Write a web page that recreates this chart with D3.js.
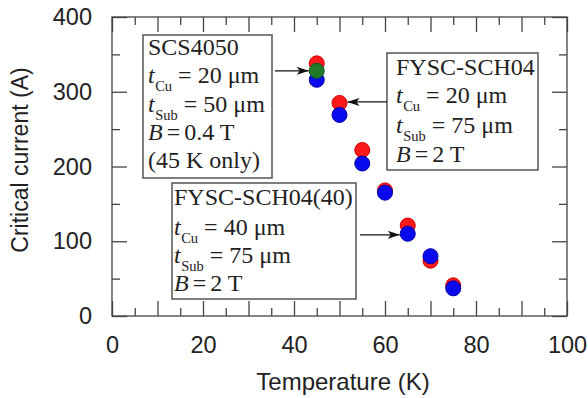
<!DOCTYPE html>
<html>
<head>
<meta charset="utf-8">
<script src="https://cdn.jsdelivr.net/npm/d3@7"></script>
<style>
  html, body { margin: 0; padding: 0; background: #fff; }
  svg { display: block; }
  text { white-space: pre; }
</style>
</head>
<body>
<svg id="chart" width="588" height="398"></svg>
<script>
// ---- data ----
const temps = [45, 50, 55, 60, 65, 70, 75];
const icSCH04 = [338, 285, 222, 168, 121, 74, 41];      // red: FYSC-SCH04
const icSCH04_40 = [316, 269, 204, 165, 110, 80, 37];   // blue: FYSC-SCH04(40)
const tempsSCS = [45];
const icSCS4050 = [328];                                 // green: SCS4050
const xTickLabels = [0, 20, 40, 60, 80, 100];
const yTickLabels = [0, 100, 200, 300, 400];
const xMajor = d3.range(0, 101, 10);
const xMinor = d3.range(5, 100, 10);
const yMajor = d3.range(0, 401, 100);
const yMinor = d3.range(50, 400, 100);

// ---- layout ----
const L = 112, R = 567, T = 17, B = 316;
const svg = d3.select("#chart");
const x = d3.scaleLinear().domain([0, 100]).range([L, R]);
const y = d3.scaleLinear().domain([0, 400]).range([B, T]);
const axisColor = "#444";
const sans = "'Liberation Sans', Arial, sans-serif";
const serif = "'Liberation Serif', 'Times New Roman', serif";

function styleAxis(g) {
  g.select(".domain").remove();
  g.selectAll(".tick line").attr("stroke", axisColor).attr("stroke-width", 1.3);
}
function noLabels(g) { g.selectAll(".tick text").remove(); }

// major / minor ticks on four sides (inside)
svg.append("g").attr("transform", `translate(0,${B})`)
  .call(d3.axisBottom(x).tickValues(xMajor).tickSize(-15)).call(styleAxis).call(noLabels);
svg.append("g").attr("transform", `translate(0,${B})`)
  .call(d3.axisBottom(x).tickValues(xMinor).tickSize(-8)).call(styleAxis).call(noLabels);
svg.append("g").attr("transform", `translate(0,${T})`)
  .call(d3.axisTop(x).tickValues(xMajor).tickSize(-15)).call(styleAxis).call(noLabels);
svg.append("g").attr("transform", `translate(0,${T})`)
  .call(d3.axisTop(x).tickValues(xMinor).tickSize(-8)).call(styleAxis).call(noLabels);
svg.append("g").attr("transform", `translate(${L},0)`)
  .call(d3.axisLeft(y).tickValues(yMajor).tickSize(-15)).call(styleAxis).call(noLabels);
svg.append("g").attr("transform", `translate(${L},0)`)
  .call(d3.axisLeft(y).tickValues(yMinor).tickSize(-8)).call(styleAxis).call(noLabels);
svg.append("g").attr("transform", `translate(${R},0)`)
  .call(d3.axisRight(y).tickValues(yMajor).tickSize(-15)).call(styleAxis).call(noLabels);
svg.append("g").attr("transform", `translate(${R},0)`)
  .call(d3.axisRight(y).tickValues(yMinor).tickSize(-8)).call(styleAxis).call(noLabels);

// tick labels
const xl = svg.append("g").attr("transform", `translate(0,${B})`)
  .call(d3.axisBottom(x).tickValues(xTickLabels).tickSize(0).tickPadding(20.5).tickFormat(d3.format("d")));
xl.select(".domain").remove();
xl.selectAll("text").attr("font-family", sans).attr("font-size", 23.5).attr("fill", "#222");
const yl = svg.append("g").attr("transform", `translate(${L},0)`)
  .call(d3.axisLeft(y).tickValues(yTickLabels).tickSize(0).tickPadding(20).tickFormat(d3.format("d")));
yl.select(".domain").remove();
yl.selectAll("text").attr("font-family", sans).attr("font-size", 23.5).attr("fill", "#222");

// frame
svg.append("rect").attr("x", L).attr("y", T).attr("width", R - L).attr("height", B - T)
  .attr("fill", "none").attr("stroke", axisColor).attr("stroke-width", 1.3);

// axis titles
svg.append("text").attr("x", 343).attr("y", 390).attr("text-anchor", "middle")
  .attr("font-family", sans).attr("font-size", 24).attr("fill", "#222").text("Temperature (K)");
svg.append("text").attr("transform", "translate(28,160) rotate(-90)").attr("text-anchor", "middle")
  .attr("font-family", sans).attr("font-size", 23).attr("fill", "#222").text("Critical current (A)");

// points
const r = 7.5;
function drawSeries(xs, vs, fill, stroke) {
  svg.append("g").selectAll("circle").data(vs).join("circle")
    .attr("cx", (d, i) => x(xs[i])).attr("cy", d => y(d)).attr("r", r)
    .attr("fill", fill).attr("stroke", stroke).attr("stroke-width", 1);
}
drawSeries(temps, icSCH04, "#ff1a1a", "#d00000");
drawSeries(temps, icSCH04_40, "#0a0aee", "#0000a8");
drawSeries(tempsSCS, icSCS4050, "#1f7a2a", "#145a1c");

// annotation boxes
function box(x0, y0, x1, y1) {
  svg.append("rect").attr("x", x0).attr("y", y0).attr("width", x1 - x0).attr("height", y1 - y0)
    .attr("fill", "#fff").attr("stroke", "#555").attr("stroke-width", 1.5);
}
function plain(tx, ty, s) {
  svg.append("text").attr("x", tx).attr("y", ty).attr("font-family", serif)
    .attr("font-size", 24).attr("fill", "#222").text(s);
}
function tLine(tx, ty, sub, rest) {
  const t = svg.append("text").attr("x", tx).attr("y", ty).attr("font-family", serif)
    .attr("font-size", 24).attr("fill", "#222");
  t.append("tspan").attr("font-style", "italic").text("t");
  t.append("tspan").attr("font-size", 14.5).attr("dy", 7.5).attr("dx", 0.5).text(sub);
  t.append("tspan").attr("dy", -7.5).text(" " + rest);
}
function bLine(tx, ty, rest) {
  const t = svg.append("text").attr("x", tx).attr("y", ty).attr("font-family", serif)
    .attr("font-size", 24).attr("fill", "#222");
  t.append("tspan").attr("font-style", "italic").text("B");
  t.append("tspan").attr("dx", 4).text("=");
  t.append("tspan").attr("dx", 4).text(rest);
}

// arrows
svg.append("defs").append("marker").attr("id", "ah")
  .attr("viewBox", "0 0 12 8").attr("refX", 12).attr("refY", 4)
  .attr("markerWidth", 12).attr("markerHeight", 8).attr("markerUnits", "userSpaceOnUse")
  .attr("orient", "auto")
  .append("path").attr("d", "M0,0 L12,4 L0,8 L3,4 Z").attr("fill", "#111");
function arrow(x0, y0, x1, y1) {
  svg.append("line").attr("x1", x0).attr("y1", y0).attr("x2", x1).attr("y2", y1)
    .attr("stroke", "#111").attr("stroke-width", 1.3).attr("marker-end", "url(#ah)");
}

// Box 1: SCS4050
box(143, 35, 272, 178);
plain(148, 55, "SCS4050");
tLine(148, 83, "Cu", "= 20 \u03bcm");
tLine(148, 112, "Sub", "= 50 \u03bcm");
bLine(148, 140, "0.4 T");
plain(148, 168, "(45 K only)");
arrow(275, y(icSCS4050[0]), x(tempsSCS[0]) - r - 0.5, y(icSCS4050[0]));

// Box 2: FYSC-SCH04
box(387, 53, 538, 170);
plain(396, 75, "FYSC-SCH04");
tLine(396, 103, "Cu", "= 20 \u03bcm");
tLine(396, 133, "Sub", "= 75 \u03bcm");
bLine(396, 162, "2 T");
arrow(387, y(icSCH04[1]) - 1, x(temps[1]) + r + 0.5, y(icSCH04[1]) - 1);

// Box 3: FYSC-SCH04(40)
box(172, 183, 356, 299);
plain(174, 205, "FYSC-SCH04(40)");
tLine(174, 235, "Cu", "= 40 \u03bcm");
tLine(174, 263, "Sub", "= 75 \u03bcm");
bLine(174, 291, "2 T");
arrow(360, y(icSCH04_40[4]) + 1, x(temps[4]) - r - 0.5, y(icSCH04_40[4]) + 1);
</script>
</body>
</html>
